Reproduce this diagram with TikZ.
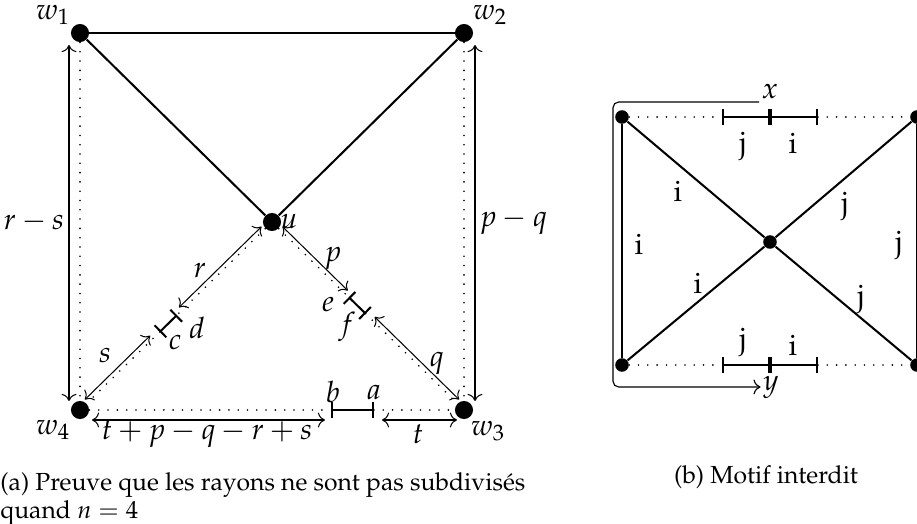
\documentclass[tikz,border=0pt]{standalone}
\usepackage[T1]{fontenc}
\usepackage{mathpazo}
\usetikzlibrary{arrows.meta, calc}
\tikzset{
    vtx/.style ={circle, fill=black, inner sep=0pt, minimum size=0.28cm},
    svtx/.style={vtx, minimum size=0.21cm},
    edg/.style ={line width=0.9pt},
    dots/.style={line width=0.8pt, line cap=round, dash pattern=on 0pt off 4.1pt},
    seg/.style ={line width=0.9pt, {Bar[width=2.6mm]}-{Bar[width=2.6mm]}},
    dim/.style ={line width=0.45pt, {To[length=1.1mm]}-{To[length=1.1mm]}},
    lbl/.style ={inner sep=1pt, font=\fontsize{13}{15}\selectfont},
    subcap/.style={inner sep=0pt, font=\fontsize{10.9}{12.3}\selectfont},
    brk/.style ={line width=0.5pt, rounded corners=2.5pt, -{To[length=1.1mm]}}
}

\begin{document}
\begin{tikzpicture}[x=0.0155cm, y=-0.0155cm]
  \useasboundingbox (0,0) rectangle (917,524);

  % (a) les rayons
  \node[vtx] (w1) at (80,33)   {};
  \node[vtx] (w2) at (464,33)  {};
  \node[vtx] (u)  at (272,222) {};
  \node[vtx] (w3) at (464,410) {};
  \node[vtx] (w4) at (80,410)  {};
  \node[lbl] (lw1) at (53,15)   {$w_1$};
  \node[lbl] (lw2) at (490,15)  {$w_2$};
  \node[lbl] (lu)  at (289,222) {$u$};
  \node[lbl] (lw3) at (488,431) {$w_3$};
  \node[lbl] (lw4) at (53,430)  {$w_4$};

  \draw[edg] (w1) -- (w2);
  \draw[edg] (w1) -- (u);
  \draw[edg] (w2) -- (u);
  \draw[dots] (w1) -- (w4);
  \draw[dots] (w2) -- (w3);

  \coordinate (b) at (331,410);
  \coordinate (a) at (374,410);
  \coordinate (d) at ($(u)!0.495!(w4)$);
  \coordinate (c) at ($(u)!0.585!(w4)$);
  \coordinate (e) at ($(u)!0.400!(w3)$);
  \coordinate (f) at ($(u)!0.488!(w3)$);
  \draw[dots] (w4) -- (b);
  \draw[dots] (a) -- (w3);
  \draw[dots] (u) -- (d);
  \draw[dots] (c) -- (w4);
  \draw[dots] (u) -- (e);
  \draw[dots] (f) -- (w3);
  \draw[seg] (b) -- (a);
  \draw[seg] (c) -- (d);
  \draw[seg] (e) -- (f);
  \node[lbl] (lb) at (333,392) {$b$};
  \node[lbl] (la) at (374,393) {$a$};
  \node[lbl] (lc) at (175,343) {$c$};
  \node[lbl] (ld) at (197,328) {$d$};
  \node[lbl] (le) at (328,305) {$e$};
  \node[lbl] (lf) at (347,327) {$f$};

  \draw[dim] ($(w1)+(-11,12)$) -- ($(w4)+(-11,-9)$);
  \draw[dim] ($(w2)+(11,12)$)  -- ($(w3)+(11,-9)$);
  \draw[dim] ($(u)!0.04!(w4)+(-2.8,-2.9)$) -- ($(u)!0.47!(w4)+(-2.8,-2.9)$);
  \draw[dim] ($(u)!0.62!(w4)+(-2.8,-2.9)$) -- ($(u)!0.96!(w4)+(-2.8,-2.9)$);
  \draw[dim] ($(u)!0.04!(w3)+(2.8,-2.9)$)  -- ($(u)!0.38!(w3)+(2.8,-2.9)$);
  \draw[dim] ($(u)!0.52!(w3)+(2.8,-2.9)$)  -- ($(u)!0.96!(w3)+(2.8,-2.9)$);
  \draw[dim] ($(w4)+(12,10)$) -- ($(b)+(-6,10)$);
  \draw[dim] ($(a)+(8,10)$)   -- ($(w3)+(-7,10)$);
  \node[lbl, anchor=east] (lrs) at (67,222)  {$r-s$};
  \node[lbl, anchor=west] (lpq) at (477,222) {$p-q$};
  \node[lbl] (lr) at (200,271) {$r$};
  \node[lbl] (ls) at (105,356) {$s$};
  \node[lbl] (lp) at (333,258) {$p$};
  \node[lbl] (lq) at (437,363) {$q$};
  \node[lbl] (lsum) at (207,434) {$t+p-q-r+s$};
  \node[lbl] (lt)   at (418,434) {$t$};

  % (b) le motif
  \node[svtx] (tl) at (622,117) {};
  \node[svtx] (bl) at (622,365) {};
  \node[svtx] (ct) at (770,242) {};
  \node[svtx] (tr) at (917,117) {};
  \node[svtx] (br) at (917,365) {};
  \draw[edg] (tl) -- (bl);
  \draw[edg] (tl) -- (ct) -- (br);
  \draw[edg] (bl) -- (ct) -- (tr);
  \draw[edg] (tr) -- (br);

  \coordinate (xl) at (722,117);
  \coordinate (xm) at (770,117);
  \coordinate (xr) at (818,117);
  \coordinate (yl) at (722,365);
  \coordinate (ym) at (770,365);
  \coordinate (yr) at (818,365);
  \draw[dots] (tl) -- (xl);
  \draw[dots] (xr) -- (tr);
  \draw[dots] (bl) -- (yl);
  \draw[dots] (yr) -- (br);
  \draw[seg] (xl) -- (xm);
  \draw[seg] (xm) -- (xr);
  \draw[seg] (yl) -- (ym);
  \draw[seg] (ym) -- (yr);

  \node[lbl] (j1) at (743,146) {j};
  \node[lbl] (i1) at (793,143) {i};
  \node[lbl] (j2) at (743,342) {j};
  \node[lbl] (i2) at (793,345) {i};
  \node[lbl] (i3) at (678,191) {i};
  \node[lbl] (i4) at (639,244) {i};
  \node[lbl] (i5) at (698,283) {i};
  \node[lbl] (j3) at (845,206) {j};
  \node[lbl] (j4) at (899,245) {j};
  \node[lbl] (j5) at (861,299) {j};

  \node[lbl] (xlab) at (770,92)  {$x$};
  \node[lbl] (ylab) at (771,387) {$y$};
  \coordinate (bk) at (613,240);
  \draw[brk] (xlab.south west) -| (bk) |- (ylab.west);

  % sous-legendes
  \node[subcap, anchor=north west, align=left] (capa) at (0,472)
       {(a) Preuve que les rayons ne sont pas subdivis\'es\\ quand $n=4$};
  \node[subcap, anchor=base] (capb) at (766,484) {(b) Motif interdit};
\end{tikzpicture}
\end{document}
